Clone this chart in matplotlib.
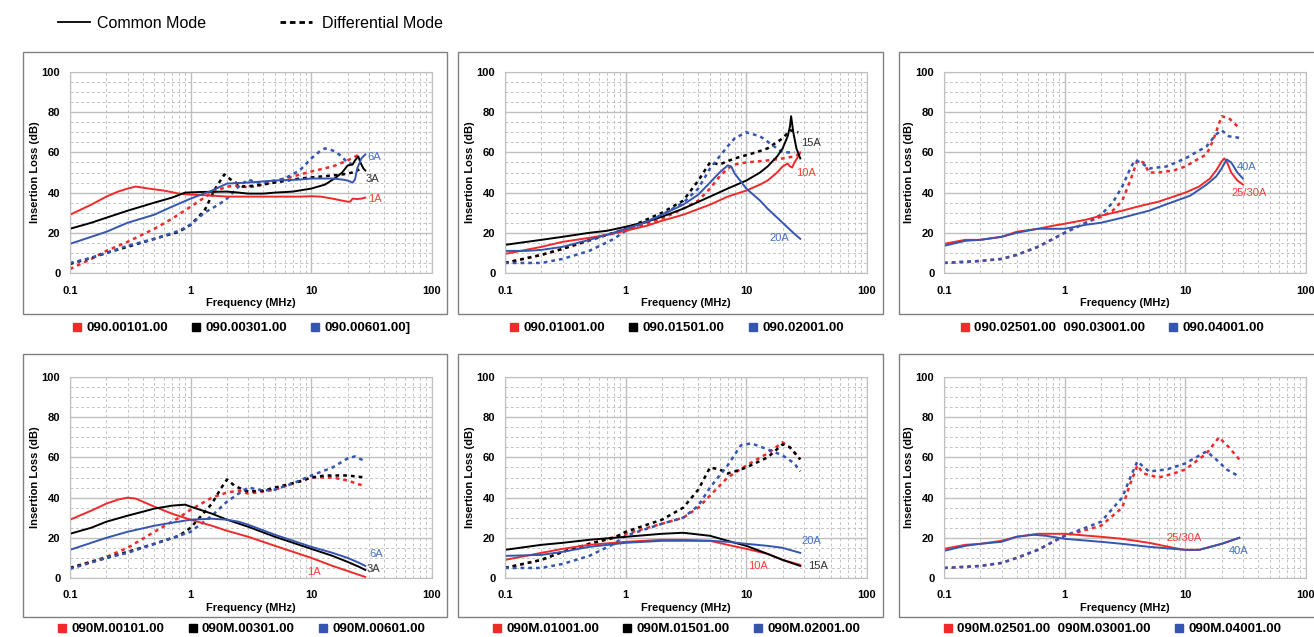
import matplotlib.pyplot as plt
import matplotlib.patches as patches
from matplotlib.lines import Line2D
from matplotlib.ticker import LogLocator, MultipleLocator, NullFormatter
import numpy as np

plt.rcParams['font.family'] = ['Liberation Sans', 'DejaVu Sans']

RED = '#F02A2A'
BLACK = '#000000'
BLUE = '#3556B0'

# ---- data: (frequency MHz, insertion loss dB) ----
# panel 1 : 090.00101.00 / 090.00301.00 / 090.00601.00
p1_cm_r = [(0.1, 29), (0.15, 34), (0.2, 38), (0.25, 40.5), (0.3, 42), (0.35, 43), (0.45, 42), (0.6, 41),
           (0.8, 39.5), (1, 39), (1.5, 38.5), (2, 38), (3, 38), (5, 38), (8, 38), (10, 38.2), (12, 38),
           (15, 37), (18, 36), (20, 35.5), (21, 35.5), (22, 37), (24, 36.8), (26, 37), (28, 37.5)]
p1_cm_k = [(0.1, 22), (0.15, 25), (0.2, 27.5), (0.3, 31), (0.5, 35), (0.7, 37.5), (0.9, 40), (1.2, 40.3),
           (2, 40.5), (2.5, 40), (3, 39.5), (4, 39.5), (5, 40), (7, 40.5), (10, 42), (13, 44), (16, 47.5),
           (18, 50), (20, 53.5), (22, 54), (23, 56), (24.5, 58), (25.5, 55), (27, 52), (28, 51)]
p1_cm_b = [(0.1, 14.5), (0.15, 18), (0.2, 20.5), (0.3, 25), (0.5, 29), (0.7, 33), (1, 37), (1.5, 41),
           (2, 44.5), (3, 45), (5, 46), (8, 46.5), (10, 47), (15, 47), (18, 46.5), (20, 46), (22, 45),
           (23, 46.5), (24, 52), (26, 57), (28, 59)]
p1_dm_r = [(0.1, 2), (0.15, 7), (0.2, 11), (0.3, 15.5), (0.5, 22), (0.7, 27), (1, 33), (1.5, 40), (2, 43),
           (2.5, 43.5), (3, 42.5), (4, 44), (5, 45.5), (7, 48), (10, 50.5), (15, 53), (20, 56), (25, 59)]
p1_dm_k = [(0.1, 4.5), (0.15, 7.5), (0.2, 10), (0.3, 13), (0.5, 17), (0.8, 20.5), (1, 24), (1.3, 31),
           (1.6, 42), (1.9, 49), (2.2, 46), (2.7, 43), (3.5, 43.5), (5, 45), (8, 47), (12, 48), (18, 49),
           (22, 50), (25, 51.5)]
p1_dm_b = [(0.1, 5), (0.15, 7.5), (0.2, 10), (0.3, 13.5), (0.5, 17), (0.8, 21), (1, 24), (1.3, 30),
           (1.7, 34), (2, 37), (2.5, 43), (3, 46.5), (3.5, 45), (4, 45), (5, 46), (6, 47), (8, 51),
           (10, 57), (12, 61), (13, 62), (15, 61), (17, 59), (20, 55), (22, 54)]

# panel 2 : 090.01001.00 / 090.01501.00 / 090.02001.00
p2_cm_r = [(0.1, 9.5), (0.2, 13), (0.3, 15.5), (0.5, 17.5), (0.7, 19), (1, 21), (1.5, 23.5), (2, 26),
           (3, 29), (5, 34), (7, 38), (10, 41), (13, 44), (15, 46), (18, 50), (20, 53), (22, 54.5),
           (23, 53), (24, 52.5), (25, 55), (27, 58), (28, 60)]
p2_cm_k = [(0.1, 14), (0.2, 16.5), (0.3, 18), (0.5, 20), (0.7, 21), (1, 23), (1.5, 25.5), (2, 28),
           (3, 32), (5, 38), (7, 42), (10, 46), (13, 50), (15, 53), (18, 58), (20, 62), (22, 68),
           (23, 73), (23.5, 78), (24.5, 70), (26, 62), (28, 57)]
p2_cm_b = [(0.1, 11), (0.15, 11), (0.2, 11.5), (0.3, 13), (0.5, 16.5), (0.7, 19), (1, 22), (1.5, 25.5),
           (2, 29), (3, 34), (4, 39), (5, 45), (6, 50), (7, 53.5), (7.5, 53), (8, 49.5), (10, 42),
           (13, 36), (15, 32), (20, 25), (25, 19.5), (28, 17)]
p2_dm_r = [(0.1, 5), (0.2, 9), (0.3, 12), (0.5, 16), (0.7, 19), (1, 21), (2, 27), (3, 32), (4, 36),
           (5, 42), (6, 48), (7, 52), (8, 54), (10, 55), (15, 56), (20, 57), (25, 58), (28, 59.5)]
p2_dm_k = [(0.1, 5), (0.2, 9), (0.3, 12), (0.5, 16.5), (0.8, 20), (1, 22), (2, 30), (3, 36), (4, 46),
           (5, 55), (6, 54), (8, 57), (12, 60), (15, 62), (20, 67), (23, 71), (27, 70)]
p2_dm_b = [(0.1, 5), (0.2, 5), (0.3, 7), (0.5, 11), (0.8, 17), (1, 21), (2, 29), (3, 35), (4, 42),
           (5, 52), (6, 58), (7, 63), (8, 67), (10, 70), (13, 68), (17, 63), (20, 60), (25, 60)]

# panel 3 : 090.02501.00 090.03001.00 / 090.04001.00
p3_cm_r = [(0.1, 14.5), (0.15, 16.5), (0.2, 16.5), (0.3, 18), (0.4, 20.5), (0.6, 22), (0.8, 23.5),
           (1, 24.5), (1.5, 26.5), (2, 28.5), (3, 31), (4, 33), (6, 35.5), (10, 40), (13, 43), (16, 47),
           (18, 51), (20, 55.5), (21, 57), (22, 55.5), (24, 50), (27, 46), (30, 44)]
p3_cm_b = [(0.1, 13.5), (0.15, 16), (0.2, 16.5), (0.3, 18), (0.4, 20), (0.6, 22), (0.8, 22), (1, 22),
           (1.5, 24), (2, 25), (3, 27.5), (5, 31), (8, 35.5), (11, 38.5), (15, 44), (18, 48), (20, 52),
           (22, 56.5), (24, 55), (27, 50), (30, 47)]
p3_dm_r = [(0.1, 5), (0.2, 6), (0.3, 7), (0.4, 9), (0.6, 13), (1, 20), (1.5, 25), (2, 28), (2.5, 31),
           (3, 36), (3.5, 46), (4, 56), (4.5, 55), (5, 50), (6, 50), (8, 51), (10, 53), (13, 57),
           (15, 59), (17, 66), (20, 78), (23, 77), (27, 73)]
p3_dm_b = [(0.1, 5), (0.2, 6), (0.3, 7), (0.4, 9), (0.6, 13), (1, 20), (1.5, 25), (2, 29), (2.5, 35),
           (3, 43), (3.5, 52), (3.8, 56), (4.3, 55), (5, 52), (7, 53), (10, 57), (15, 63), (18, 69),
           (20, 71), (23, 68), (30, 67)]

# panel 4 : 090M.00101.00 / 090M.00301.00 / 090M.00601.00
p4_cm_r = [(0.1, 29), (0.15, 33.5), (0.2, 37), (0.25, 39), (0.3, 40), (0.35, 39.5), (0.5, 35.5),
           (0.7, 32), (1, 29), (1.5, 26), (2, 23.5), (3, 20.5), (5, 16), (10, 10), (15, 6), (20, 3.5),
           (25, 1.5), (28, 0.5)]
p4_cm_k = [(0.1, 22), (0.15, 25), (0.2, 28), (0.3, 31), (0.5, 34.5), (0.7, 36), (0.9, 36.5), (1, 35.5),
           (1.5, 32), (2, 29), (3, 25.5), (5, 20.5), (10, 14.5), (15, 11), (20, 8), (25, 5.5), (28, 4)]
p4_cm_b = [(0.1, 14), (0.15, 17.5), (0.2, 20), (0.3, 23), (0.5, 26), (0.7, 27.5), (1, 29), (1.5, 29.5),
           (2, 29), (2.5, 28), (3, 26.5), (5, 21.5), (10, 15.5), (15, 12.5), (20, 10), (25, 7.5), (28, 6)]
p4_dm_r = [(0.1, 5), (0.2, 10.5), (0.3, 15), (0.5, 23), (0.8, 30), (1, 34), (1.5, 40), (2, 42.5),
           (2.5, 43.5), (3, 42), (4, 43), (5, 44), (7, 47), (10, 50), (15, 50), (20, 48.5), (25, 46.5),
           (28, 46)]
p4_dm_k = [(0.1, 5), (0.2, 10), (0.3, 13), (0.5, 17), (0.8, 21), (1, 25), (1.5, 37), (1.8, 45), (2, 49),
           (2.3, 46), (2.7, 44), (3, 43), (4, 43.5), (5, 45), (8, 48), (10, 50), (13, 51), (20, 51),
           (28, 50)]
p4_dm_b = [(0.1, 4.5), (0.2, 10), (0.3, 12.5), (0.5, 17), (0.8, 21), (1, 23), (1.5, 31), (2, 38),
           (2.5, 42), (3, 45), (4, 43.5), (5, 44), (7, 47), (10, 51), (15, 55), (20, 59.5), (23, 60.5),
           (28, 58)]

# panel 5 : 090M.01001.00 / 090M.01501.00 / 090M.02001.00
p5_cm_r = [(0.1, 9), (0.2, 12.5), (0.3, 14.5), (0.5, 16.5), (1, 18), (2, 19), (3, 19), (5, 18.5),
           (7, 16.5), (10, 14.5), (15, 12), (20, 9), (28, 6.5)]
p5_cm_k = [(0.1, 14), (0.2, 16.5), (0.3, 17.5), (0.5, 19), (1, 20.5), (2, 22), (3, 22.5), (5, 21),
           (7, 18.5), (10, 16), (15, 12), (20, 9), (28, 6)]
p5_cm_b = [(0.1, 11), (0.2, 11.5), (0.3, 13), (0.5, 15.5), (1, 17.5), (2, 18.5), (3, 18.5), (5, 18.5),
           (7, 18), (10, 17), (15, 16), (20, 15), (28, 12.5)]
p5_dm_r = [(0.1, 5), (0.2, 9), (0.3, 13), (0.5, 17), (1, 22), (2, 27), (3, 30), (4, 35), (5, 41),
           (7, 50), (10, 56), (15, 62), (20, 67.5), (23, 65), (28, 59)]
p5_dm_k = [(0.1, 5), (0.2, 9), (0.3, 13), (0.5, 17), (0.8, 20), (1, 23), (2, 29), (3, 35), (4, 44),
           (5, 55), (6, 54), (7, 52), (8, 53), (10, 55), (15, 60), (20, 66.5), (23, 65), (28, 59)]
p5_dm_b = [(0.1, 5), (0.2, 5), (0.3, 7), (0.5, 11), (0.8, 17), (1, 21), (2, 27), (3, 30), (4, 36),
           (5, 45), (7, 56), (9, 66), (11, 67), (15, 64), (20, 61), (25, 57), (28, 53)]

# panel 6 : 090M.02501.00 090M.03001.00 / 090M.04001.00
p6_cm_r = [(0.1, 14.5), (0.15, 16.5), (0.2, 17), (0.3, 18.5), (0.4, 20.5), (0.6, 22), (1, 22), (2, 20.5),
           (3, 19.5), (5, 17.5), (8, 15), (10, 14), (13, 14), (20, 17), (28, 20)]
p6_cm_b = [(0.1, 13.5), (0.15, 16), (0.2, 17), (0.3, 18), (0.4, 20.5), (0.55, 21.5), (0.7, 21),
           (1, 19.5), (2, 18), (3, 17), (5, 15.5), (8, 14.5), (10, 14), (13, 14), (20, 17), (28, 20)]
p6_dm_r = [(0.1, 5), (0.2, 6), (0.3, 7.5), (0.4, 10), (0.6, 14), (0.8, 18), (1, 21), (2, 26), (3, 35),
           (3.5, 47), (4, 56), (4.5, 52), (6, 50), (8, 52), (10, 54), (15, 62), (19, 70), (23, 65), (28, 59)]
p6_dm_b = [(0.1, 5), (0.2, 6), (0.3, 7.5), (0.4, 10), (0.6, 14), (0.8, 18), (1, 21), (2, 28), (3, 40),
           (3.5, 50), (4, 58), (5, 53), (7, 54), (10, 57), (15, 63), (18, 59), (22, 54), (27, 51)]

legend_1 = ['090.00101.00', '090.00301.00', '090.00601.00]']
legend_2 = ['090.01001.00', '090.01501.00', '090.02001.00']
legend_3 = ['090.02501.00  090.03001.00', '090.04001.00']
legend_4 = ['090M.00101.00', '090M.00301.00', '090M.00601.00']
legend_5 = ['090M.01001.00', '090M.01501.00', '090M.02001.00']
legend_6 = ['090M.02501.00  090M.03001.00', '090M.04001.00']

curve_labels_1 = ['1A', '3A', '6A']
curve_labels_2 = ['10A', '15A', '20A']
curve_labels_3 = ['25/30A', '40A']
curve_labels_4 = ['1A', '3A', '6A']
curve_labels_5 = ['10A', '15A', '20A']
curve_labels_6 = ['25/30A', '40A']

LBL_COLORS = {RED: '#FF3B3B', BLACK: '#333333', BLUE: '#4472C4'}

panels = [
    dict(cm=[p1_cm_r, p1_cm_k, p1_cm_b], dm=[p1_dm_r, p1_dm_k, p1_dm_b], colors=[RED, BLACK, BLUE],
         legend=legend_1, labels=curve_labels_1, label_pos=[(29.6, 36.8), (27.9, 47), (29, 57.7)]),
    dict(cm=[p2_cm_r, p2_cm_k, p2_cm_b], dm=[p2_dm_r, p2_dm_k, p2_dm_b], colors=[RED, BLACK, BLUE],
         legend=legend_2, labels=curve_labels_2, label_pos=[(25.9, 49.8), (28.5, 64.7), (15.5, 17.4)]),
    dict(cm=[p3_cm_r, p3_cm_b], dm=[p3_dm_r, p3_dm_b], colors=[RED, BLUE],
         legend=legend_3, labels=curve_labels_3, label_pos=[(24, 39.8), (26.9, 52.7)]),
    dict(cm=[p4_cm_r, p4_cm_k, p4_cm_b], dm=[p4_dm_r, p4_dm_k, p4_dm_b], colors=[RED, BLACK, BLUE],
         legend=legend_4, labels=curve_labels_4, label_pos=[(9.3, 3), (28.5, 4.5), (30, 11.9)]),
    dict(cm=[p5_cm_r, p5_cm_k, p5_cm_b], dm=[p5_dm_r, p5_dm_k, p5_dm_b], colors=[RED, BLACK, BLUE],
         legend=legend_5, labels=curve_labels_5, label_pos=[(10.4, 6), (32.5, 6), (28.5, 18.4)]),
    dict(cm=[p6_cm_r, p6_cm_b], dm=[p6_dm_r, p6_dm_b], colors=[RED, BLUE],
         legend=legend_6, labels=curve_labels_6, label_pos=[(7, 20), (23, 13.4)]),
]

# ---- layout in pixels ----
W, H = 1314, 637
fig = plt.figure(figsize=(W / 100, H / 100), dpi=100)

ax_left = [70, 505, 944]
ax_rows = [(72, 273), (377, 578)]
ax_w = 362
frame_x = [(23, 447), (458, 883), (899, 1340)]
frame_y = [(52, 314), (354, 617)]
legend_cx = [241, 676, 1112]
legend_y = [328, 629]

GRID = '#BFBFBF'

for i, p in enumerate(panels):
    r, c = divmod(i, 3)
    # outer frame
    fx0, fx1 = frame_x[c]
    fy0, fy1 = frame_y[r]
    fig.add_artist(patches.Rectangle((fx0 / W, 1 - fy1 / H), (fx1 - fx0) / W, (fy1 - fy0) / H,
                                     transform=fig.transFigure, fill=False, edgecolor='#808080', lw=1.0))

    top, bot = ax_rows[r]
    ax = fig.add_axes([ax_left[c] / W, 1 - bot / H, ax_w / W, (bot - top) / H])
    ax.set_xscale('log')
    ax.set_xlim(0.1, 100)
    ax.set_ylim(0, 100)
    ax.set_xticks([0.1, 1, 10, 100])
    ax.set_xticklabels(['0.1', '1', '10', '100'])
    ax.set_yticks(np.arange(0, 101, 20))
    ax.xaxis.set_minor_locator(LogLocator(base=10, subs=np.arange(2, 10)))
    ax.xaxis.set_minor_formatter(NullFormatter())
    ax.yaxis.set_minor_locator(MultipleLocator(5))
    ax.grid(True, which='major', color=GRID, lw=1.0, ls='-')
    ax.grid(True, which='minor', color='#C4C4C4', lw=0.7, ls=(0, (3, 2.5)))
    ax.set_axisbelow(True)
    ax.tick_params(which='both', length=0)
    ax.tick_params(axis='x', pad=9, labelsize=8)
    ax.tick_params(axis='y', pad=7, labelsize=8)
    for lab in ax.get_xticklabels() + ax.get_yticklabels():
        lab.set_fontweight('bold')
    for s in ax.spines.values():
        s.set_color(GRID)
    ax.set_xlabel('Frequency (MHz)', fontsize=8, fontweight='bold', labelpad=1.5)
    ax.set_ylabel('Insertion Loss (dB)', fontsize=8, fontweight='bold', labelpad=1)

    for data, col in zip(p['dm'], p['colors']):
        f, db = zip(*data)
        ax.plot(f, db, color=col, lw=1.8, dashes=(1.5, 1.6), solid_capstyle='butt')
    for data, col in zip(p['cm'], p['colors']):
        f, db = zip(*data)
        ax.plot(f, db, color=col, lw=1.4)

    for txt, (fx, fy), col in zip(p['labels'], p['label_pos'], p['colors']):
        ax.text(fx, fy, txt, color=LBL_COLORS[col], fontsize=8, ha='left', va='center')

    handles = [Line2D([], [], marker='s', ls='none', color=col, markersize=6) for col in p['colors']]
    ax.legend(handles, p['legend'], loc='center',
              bbox_to_anchor=(legend_cx[c] / W, 1 - legend_y[r] / H), bbox_transform=fig.transFigure,
              ncol=len(handles), frameon=False, prop={'weight': 'bold', 'size': 9.7},
              handletextpad=0.3, columnspacing=1.7, handlelength=0.8, borderaxespad=0, borderpad=0)

# top legend for line styles
fig.add_artist(Line2D([58 / W, 90 / W], [1 - 22 / H, 1 - 22 / H], transform=fig.transFigure,
                      color='black', lw=1.3))
fig.text(97 / W, 1 - 23 / H, 'Common Mode', fontsize=11.5, va='center', ha='left')
fig.add_artist(Line2D([280 / W, 312 / W], [1 - 22 / H, 1 - 22 / H], transform=fig.transFigure,
                      color='black', lw=2.0, dashes=(2, 1.4)))
fig.text(322 / W, 1 - 23 / H, 'Differential Mode', fontsize=11.5, va='center', ha='left')

plt.savefig('out.png', dpi=100)
